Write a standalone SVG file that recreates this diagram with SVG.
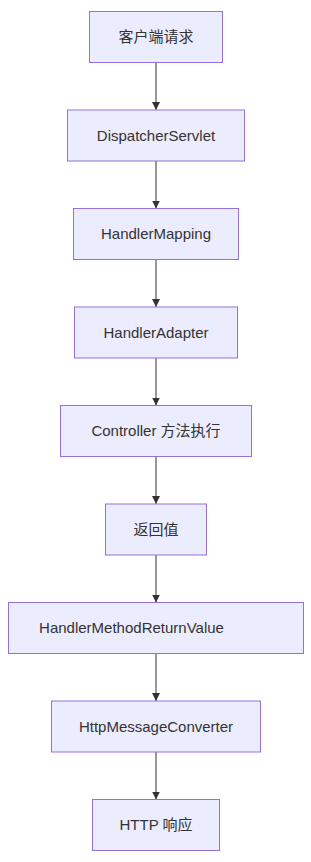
<svg xmlns="http://www.w3.org/2000/svg" width="311" height="862" viewBox="0 0 311 862">
<style>
.node rect{fill:#ECECFF;stroke:#9370DB;stroke-width:1}
.node text{font-family:"Liberation Sans","Noto Sans CJK SC",sans-serif;font-size:15px;fill:#333;text-anchor:middle}
.edge{stroke:#333;stroke-width:1;fill:none}
</style>
<defs>
<marker id="arr" viewBox="0 0 10 10" refX="10" refY="5" markerWidth="8" markerHeight="8" markerUnits="userSpaceOnUse" orient="auto">
<path d="M0,0 L10,5 L0,10 z" fill="#333"/>
</marker>
</defs>
<g id="edges">
<path class="edge" d="M156,62.5 V110" marker-end="url(#arr)"/>
<path class="edge" d="M156,161 V208.5" marker-end="url(#arr)"/>
<path class="edge" d="M156,259.5 V307" marker-end="url(#arr)"/>
<path class="edge" d="M156,358 V405.5" marker-end="url(#arr)"/>
<path class="edge" d="M156,456.5 V504" marker-end="url(#arr)"/>
<path class="edge" d="M156,555 V602.5" marker-end="url(#arr)"/>
<path class="edge" d="M156,653.5 V701" marker-end="url(#arr)"/>
<path class="edge" d="M156,752 V799.5" marker-end="url(#arr)"/>
</g>
<g id="n1" class="node"><rect x="89.5" y="11.5" width="133" height="51"/><text x="156" y="42">客户端请求</text></g>
<g id="n2" class="node"><rect x="67.5" y="110" width="177" height="51"/><text x="156" y="140.5">DispatcherServlet</text></g>
<g id="n3" class="node"><rect x="73.5" y="208.5" width="165" height="51"/><text x="156" y="239">HandlerMapping</text></g>
<g id="n4" class="node"><rect x="74.5" y="307" width="163" height="51"/><text x="156" y="337.5">HandlerAdapter</text></g>
<g id="n5" class="node"><rect x="60.5" y="405.5" width="191" height="51"/><text x="156" y="436">Controller 方法执行</text></g>
<g id="n6" class="node"><rect x="105.5" y="504" width="101" height="51"/><text x="156" y="534.5">返回值</text></g>
<g id="n7" class="node"><rect x="8.5" y="602.5" width="295" height="51"/><text x="131.5" y="633">HandlerMethodReturnValue</text></g>
<g id="n8" class="node"><rect x="51.5" y="701" width="209" height="51"/><text x="156" y="731.5">HttpMessageConverter</text></g>
<g id="n9" class="node"><rect x="92.5" y="799.5" width="127" height="51"/><text x="156" y="830">HTTP 响应</text></g>
</svg>
